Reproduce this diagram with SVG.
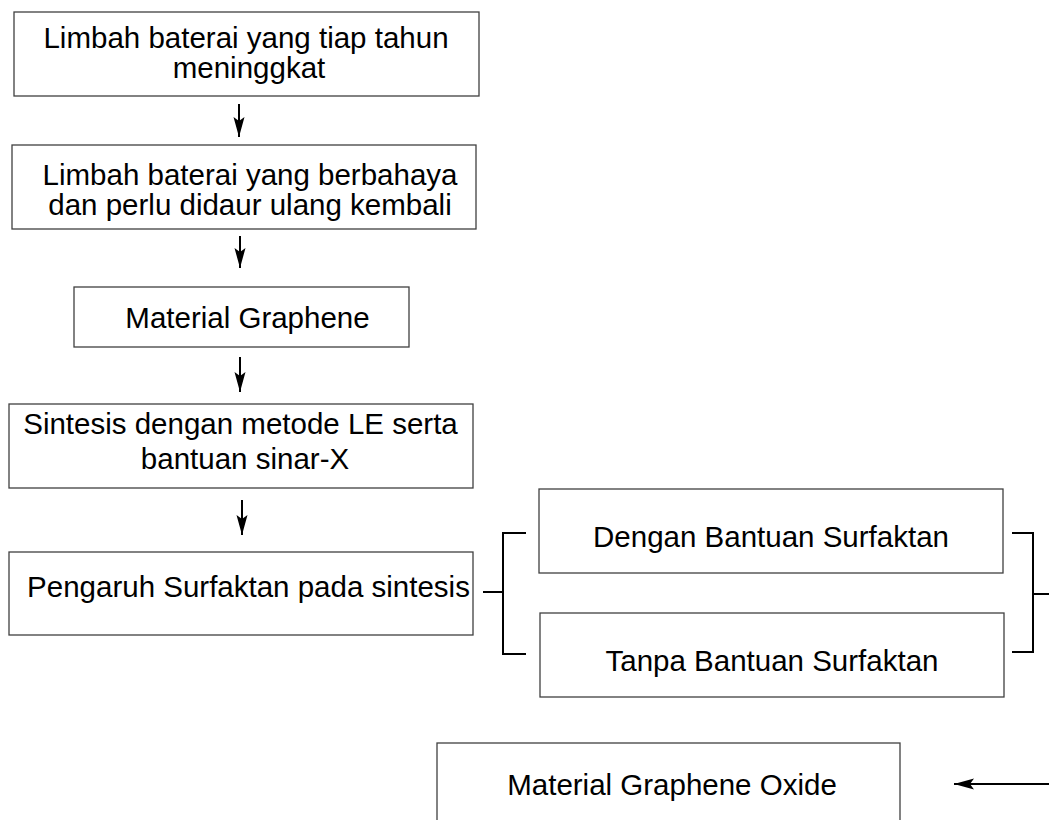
<svg xmlns="http://www.w3.org/2000/svg" width="1049" height="820" viewBox="0 0 1049 820">
<style>
  .box { fill: #ffffff; stroke: #404040; stroke-width: 1.3; }
  .t { font-family: "Liberation Sans", Arial, sans-serif; font-size: 29.5px; fill: #000000; text-anchor: middle; }
  .ln { stroke: #000000; stroke-width: 2; fill: none; }
</style>
<defs>
  <marker id="ah" markerUnits="userSpaceOnUse" markerWidth="22" markerHeight="12" refX="20" refY="6" orient="auto">
    <path d="M0,0.5 L20,6 L0,11.5 L4,6 z" fill="#000000"/>
  </marker>
</defs>
<rect width="1049" height="820" fill="#ffffff"/>

<g id="n1">
  <rect class="box" x="14" y="12" width="465" height="84"/>
  <text class="t" x="246" y="48">Limbah baterai yang tiap tahun</text>
  <text class="t" x="249" y="78">meninggkat</text>
</g>
<g id="n2">
  <rect class="box" x="12" y="145" width="464" height="84"/>
  <text class="t" x="250" y="185">Limbah baterai yang berbahaya</text>
  <text class="t" x="250" y="215">dan perlu didaur ulang kembali</text>
</g>
<g id="n3">
  <rect class="box" x="74" y="287" width="335" height="60"/>
  <text class="t" x="247.5" y="328">Material Graphene</text>
</g>
<g id="n4">
  <rect class="box" x="9" y="404" width="464" height="84"/>
  <text class="t" x="240.5" y="434">Sintesis dengan metode LE serta</text>
  <text class="t" x="245" y="469">bantuan sinar-X</text>
</g>
<g id="n5">
  <rect class="box" x="9" y="552" width="464" height="83"/>
  <text class="t" x="248.5" y="597">Pengaruh Surfaktan pada sintesis</text>
</g>
<g id="n6">
  <rect class="box" x="539" y="489" width="464" height="84"/>
  <text class="t" x="771" y="547">Dengan Bantuan Surfaktan</text>
</g>
<g id="n7">
  <rect class="box" x="540" y="613" width="464" height="84"/>
  <text class="t" x="772" y="671">Tanpa Bantuan Surfaktan</text>
</g>
<g id="n8">
  <rect class="box" x="437" y="743" width="463" height="90"/>
  <text class="t" x="672" y="795">Material Graphene Oxide</text>
</g>

<g id="connectors">
  <line class="ln" x1="239" y1="104" x2="239" y2="137" marker-end="url(#ah)"/>
  <line class="ln" x1="240" y1="236" x2="240" y2="268" marker-end="url(#ah)"/>
  <line class="ln" x1="240" y1="357" x2="240" y2="392" marker-end="url(#ah)"/>
  <line class="ln" x1="242" y1="500" x2="242" y2="535" marker-end="url(#ah)"/>
  <path class="ln" d="M483,592 H503"/>
  <path class="ln" d="M526,533 H503 V654 H526"/>
  <path class="ln" d="M1012,533 H1033 V652 H1012"/>
  <path class="ln" d="M1033,594 H1049"/>
  <line class="ln" x1="1049" y1="784" x2="954" y2="784" marker-end="url(#ah)"/>
</g>
</svg>
